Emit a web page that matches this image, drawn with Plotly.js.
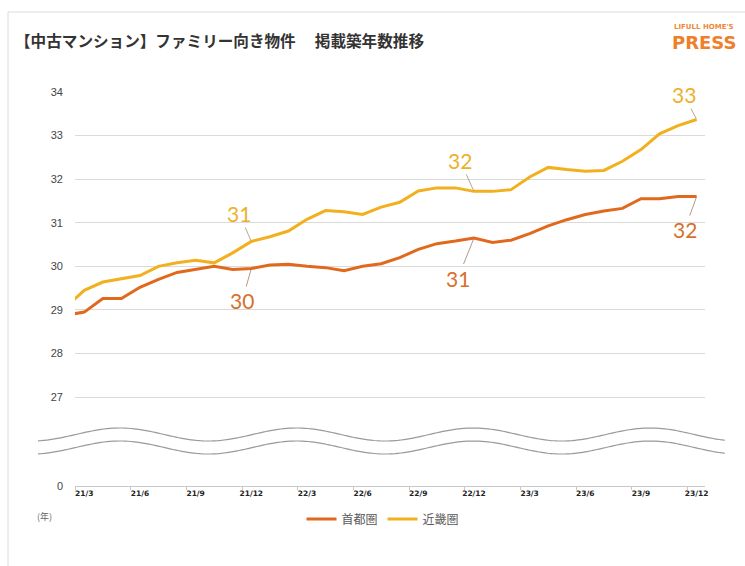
<!DOCTYPE html>
<html>
<head>
<meta charset="utf-8">
<script src="https://cdn.plot.ly/plotly-3.0.1.min.js"></script>
<style>html,body{margin:0;padding:0;background:#fff;}#chart{width:745px;height:566px;}</style>
</head>
<body>
<div id="chart"></div>
<script>
// ---- data ----
const months = ['21/2','21/3','21/4','21/5','21/6','21/7','21/8','21/9','21/10','21/11','21/12',
  '22/1','22/2','22/3','22/4','22/5','22/6','22/7','22/8','22/9','22/10','22/11','22/12',
  '23/1','23/2','23/3','23/4','23/5','23/6','23/7','23/8','23/9','23/10','23/11','23/12'];
const shutoken = [28.88,28.95,29.26,29.26,29.52,29.70,29.86,29.93,30.00,29.93,29.95,
  30.03,30.05,30.00,29.97,29.90,30.00,30.06,30.20,30.39,30.52,30.58,30.65,
  30.55,30.60,30.75,30.93,31.07,31.19,31.27,31.33,31.55,31.55,31.60,31.60];
const kinkiken = [29.06,29.45,29.64,29.72,29.79,30.00,30.08,30.14,30.08,30.31,30.57,
  30.68,30.81,31.08,31.28,31.25,31.19,31.36,31.47,31.73,31.80,31.80,31.72,
  31.72,31.76,32.05,32.27,32.22,32.18,32.20,32.41,32.68,33.04,33.23,33.37];
const seriesNames = ['首都圏','近畿圏'];
const xTickMonths = ['21/3','21/6','21/9','21/12','22/3','22/6','22/9','22/12','23/3','23/6','23/9','23/12'];
const yTickValues = [27,28,29,30,31,32,33,34];
const yBreakLabel = '0';
const titleText = '【中古マンション】ファミリー向き物件　 掲載築年数推移';

// ---- layout helpers ----
const ORANGE = '#E0691E', YELLOW = '#F2B01E';
const xIdx = months.map((m, i) => i);
const BREAK_BASE = 24.96; // axis position standing for the "0" label (broken axis)
const L = 75, T = 92, W = 630, H = 394;
const pX = x => (x - L) / W;
const pY = y => (T + H - y) / H;

function wavePath(center) {
  let d = '';
  for (let x = 38; x <= 727; x += 3) {
    const y = center - 6.5 * Math.cos(2 * Math.PI * (x - 120) / 176.7);
    d += (d ? ' L ' : 'M ') + pX(x).toFixed(5) + ',' + pY(y).toFixed(5);
  }
  return d;
}

const traces = [
  {x: xIdx, y: shutoken, name: seriesNames[0], type: 'scatter', mode: 'lines',
   line: {color: ORANGE, width: 3}},
  {x: xIdx, y: kinkiken, name: seriesNames[1], type: 'scatter', mode: 'lines',
   line: {color: YELLOW, width: 3}}
];

const decIdx = months.map((m, i) => m.endsWith('/12') ? i : -1).filter(i => i >= 0);
const kOff = [[-12, -28], [-14, -31], [-13, -25]];
const sOff = [[-9, 32], [-16, 40], [-12, 33]];
const annotations = [];
decIdx.forEach((i, k) => {
  annotations.push({x: i, y: kinkiken[i], xref: 'x', yref: 'y', text: String(Math.round(kinkiken[i])),
    showarrow: true, arrowhead: 0, arrowwidth: 1, arrowcolor: 'rgba(160,140,100,0.75)', standoff: 1,
    ax: kOff[k][0], ay: kOff[k][1], font: {family: 'Lato, sans-serif', size: 21, color: '#EDB02A'}});
  annotations.push({x: i, y: shutoken[i], xref: 'x', yref: 'y', text: String(Math.round(shutoken[i])),
    showarrow: true, arrowhead: 0, arrowwidth: 1, arrowcolor: 'rgba(150,120,100,0.75)', standoff: 1,
    ax: sOff[k][0], ay: sOff[k][1], font: {family: 'Lato, sans-serif', size: 21, color: '#D8702A'}});
});
annotations.push({xref: 'paper', yref: 'paper', x: pX(13), y: pY(40), xanchor: 'left', yanchor: 'middle',
  showarrow: false, text: titleText,
  font: {family: '"Noto Sans CJK JP", sans-serif', size: 15.6, weight: 'bold', color: '#333'}});
annotations.push({xref: 'paper', yref: 'paper', x: pX(704), y: pY(26.5), xanchor: 'center', yanchor: 'middle',
  showarrow: false, text: "LIFULL HOME'S",
  font: {family: '"DejaVu Sans", sans-serif', size: 7, weight: 'bold', color: '#EE8A35'}});
annotations.push({xref: 'paper', yref: 'paper', x: pX(704), y: pY(42.5), xanchor: 'center', yanchor: 'middle',
  showarrow: false, text: 'PRESS',
  font: {family: '"DejaVu Sans", sans-serif', size: 18, weight: 'bold', color: '#EF7F2A'}});
annotations.push({xref: 'paper', yref: 'paper', x: pX(44), y: pY(516), xanchor: 'center', yanchor: 'middle',
  showarrow: false, text: '(年)',
  font: {family: '"Noto Sans CJK JP", sans-serif', size: 9, color: '#666'}});

const shapes = [
  {type: 'path', xref: 'paper', yref: 'paper', path: wavePath(434.5), line: {color: '#9a9a9a', width: 1.2}},
  {type: 'path', xref: 'paper', yref: 'paper', path: wavePath(447.5), line: {color: '#9a9a9a', width: 1.2}},
  {type: 'line', xref: 'paper', yref: 'paper', x0: pX(8), x1: pX(8), y0: pY(12), y1: pY(570), line: {color: '#dcdcdc', width: 1}},
  {type: 'line', xref: 'paper', yref: 'paper', x0: pX(8), x1: pX(760), y0: pY(12), y1: pY(12), line: {color: '#dcdcdc', width: 1}}
];

const layout = {
  width: 745, height: 566,
  margin: {l: L, r: 745 - L - W, t: T, b: 566 - T - H},
  paper_bgcolor: '#fff', plot_bgcolor: '#fff',
  showlegend: true,
  legend: {orientation: 'h', x: pX(383), xanchor: 'center', y: pY(519), yanchor: 'middle',
    itemwidth: 30, font: {family: '"Noto Sans CJK JP", sans-serif', size: 12, color: '#595959'}},
  xaxis: {
    range: [0.5, 34.45], showgrid: false, zeroline: false,
    showline: true, linecolor: '#c8c8c8', linewidth: 1,
    tickmode: 'array', tickvals: xTickMonths.map(m => months.indexOf(m)), ticktext: xTickMonths,
    ticks: '', tickfont: {family: '"DejaVu Sans", sans-serif', size: 7.5, weight: 'bold', color: '#222'},
    minor: {tick0: 0.5, dtick: 3, ticks: 'outside', ticklen: 3, tickcolor: '#c8c8c8'}
  },
  yaxis: {
    range: [BREAK_BASE, 34], zeroline: false, showline: false,
    tickmode: 'array', tickvals: [BREAK_BASE].concat(yTickValues),
    ticktext: [yBreakLabel].concat(yTickValues.map(String)),
    showgrid: true, gridcolor: '#dadada', gridwidth: 1,
    ticklabelstandoff: 11,
    tickfont: {family: '"Liberation Sans", sans-serif', size: 11, color: '#444'}
  },
  annotations: annotations,
  shapes: shapes
};

Plotly.newPlot('chart', traces, layout, {staticPlot: true, displayModeBar: false});
</script>
</body>
</html>
